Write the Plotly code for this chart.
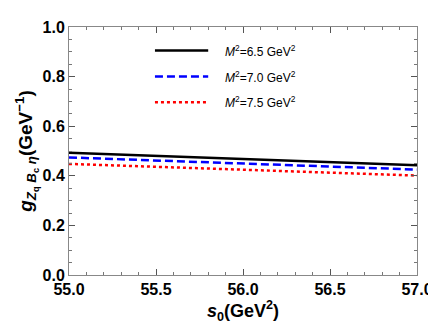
import plotly.graph_objects as go

# s0 values (GeV^2) and coupling curves for three Borel masses
s0 = [55.0, 55.5, 56.0, 56.5, 57.0]
g_m65 = [0.493, 0.481, 0.468, 0.456, 0.443]
g_m70 = [0.474, 0.462, 0.450, 0.437, 0.425]
g_m75 = [0.448, 0.436, 0.424, 0.412, 0.401]
names = ["<i>M</i><sup>2</sup>=6.5 GeV<sup>2</sup>",
         "<i>M</i><sup>2</sup>=7.0 GeV<sup>2</sup>",
         "<i>M</i><sup>2</sup>=7.5 GeV<sup>2</sup>"]
colors = ["black", "blue", "red"]
dashes = ["solid", "8px,4px", "3px,3px"]

fnt = "Liberation Sans"

fig = go.Figure()
for ys, c, d, n in zip([g_m65, g_m70, g_m75], colors, dashes, names):
    fig.add_trace(go.Scatter(x=s0, y=ys, mode="lines", name=n,
                             line=dict(color=c, width=2.5, dash=d)))

# hand-made legend (line sample + label) in paper coordinates
x0, x1 = 0.247, 0.40
rows = [0.905, 0.80, 0.697]
for yy, c, d, n in zip(rows, colors, dashes, names):
    fig.add_shape(type="line", xref="paper", yref="paper", x0=x0, x1=x1, y0=yy, y1=yy,
                  line=dict(color=c, width=2.5, dash=d))
    fig.add_annotation(xref="paper", yref="paper", x=0.443, y=yy, text=n, showarrow=False,
                       xanchor="left", yanchor="middle",
                       font=dict(family=fnt, size=12, color="black"))

axis_common = dict(showline=True, linecolor="#888", linewidth=1, mirror="ticks",
                   ticks="inside", tickcolor="#555", ticklen=6, showgrid=False, zeroline=False,
                   tickfont=dict(family=fnt, size=16, color="black"))

fig.update_layout(
    width=436, height=327,
    margin=dict(l=61, r=17, t=11, b=60),
    plot_bgcolor="white", paper_bgcolor="white",
    showlegend=False,
    xaxis=dict(range=[55.0, 57.0], tickvals=[55.0, 55.5, 56.0, 56.5, 57.0],
               ticktext=["<b>55.0</b>", "<b>55.5</b>", "<b>56.0</b>", "<b>56.5</b>", "<b>57.0</b>"],
               minor=dict(dtick=0.1, ticks="inside", ticklen=3, tickcolor="#777"),
               title=dict(text="<b><i>s</i><sub>0</sub>(GeV<sup>2</sup>)</b>", standoff=6,
                          font=dict(family=fnt, size=18, color="black")),
               **axis_common),
    yaxis=dict(range=[0, 1.0], tickvals=[0, 0.2, 0.4, 0.6, 0.8, 1.0],
               ticktext=["<b>0.0</b>", "<b>0.2</b>", "<b>0.4</b>", "<b>0.6</b>", "<b>0.8</b>", "<b>1.0</b>"],
               minor=dict(dtick=0.05, ticks="inside", ticklen=3, tickcolor="#777"),
               title=dict(text="<b><i>g</i><sub><i>Z</i><sub>q</sub> <i>B</i><sub>c</sub> <i>η</i></sub>(GeV<sup>−1</sup>)</b>",
                          standoff=4,
                          font=dict(family=fnt, size=19, color="black")),
               **axis_common),
)

fig.write_html("out.html")
